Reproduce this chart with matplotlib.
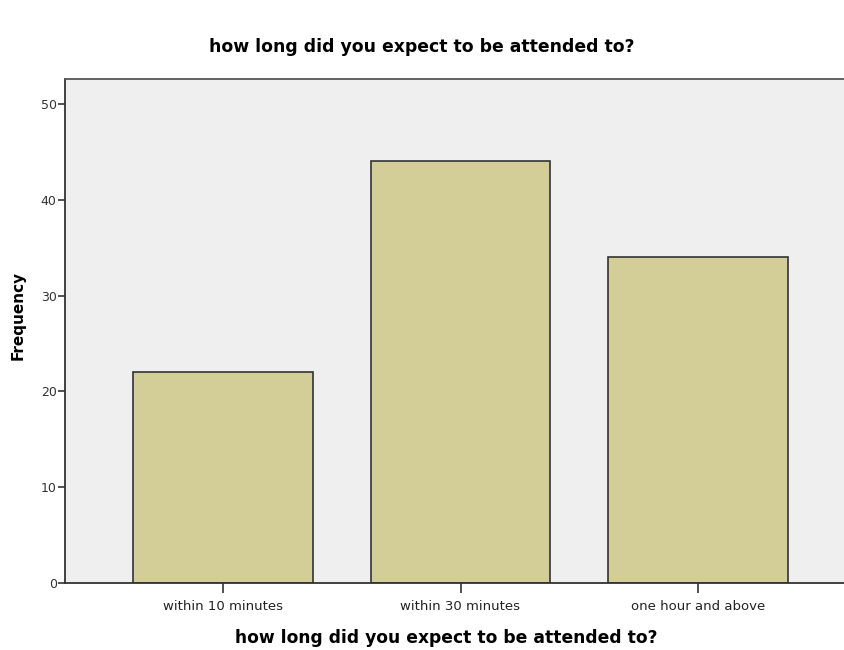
import matplotlib
matplotlib.use("Agg")
import matplotlib.pyplot as plt

categories = ["within 10 minutes", "within 30 minutes", "one hour and above"]
frequencies = [22, 44, 34]
yticks = [0, 10, 20, 30, 40, 50]
title = "how long did you expect to be attended to?"
xlabel = "how long did you expect to be attended to?"
ylabel = "Frequency"

plt.rcParams['font.family'] = ['DejaVu Sans']

W, H = 845, 650
fig = plt.figure(figsize=(W/100, H/100), dpi=100)
left, right, top, bottom = 65, 856, 79, 583
ax = fig.add_axes([left/W, (H-bottom)/H, (right-left)/W, (bottom-top)/H])
ax.set_facecolor('#EFEFEF')

x = list(range(len(categories)))
ax.bar(x, frequencies, width=0.754, color='#D3CE97', edgecolor='#333333', linewidth=1.2, zorder=2)

ax.set_xlim(-0.665, 2.665)
ax.set_ylim(0, 52.6)
ax.set_xticks(x)
ax.set_xticklabels(categories, fontsize=9.5, color='#222222')
ax.set_yticks(yticks)
ax.set_yticklabels([str(v) for v in yticks], fontsize=9, color='#333333')
ax.tick_params(axis='x', length=7, width=1.2, color='#333333', pad=5)
ax.tick_params(axis='y', length=5, width=1.2, color='#333333', pad=1)

for s in ax.spines.values():
    s.set_color('#555555')
    s.set_linewidth(1.3)
ax.spines['left'].set_color('#333333')
ax.spines['bottom'].set_color('#333333')

fig.text(422/W, 1-47/H, title, ha='center', va='center', fontsize=12.4, fontweight='bold')
fig.text(446/W, 1-638/H, xlabel, ha='center', va='center', fontsize=12.3, fontweight='bold')
fig.text(18/W, 1-315/H, ylabel, ha='center', va='center', fontsize=11, fontweight='bold', rotation=90)

fig.savefig('out.png', dpi=100)
